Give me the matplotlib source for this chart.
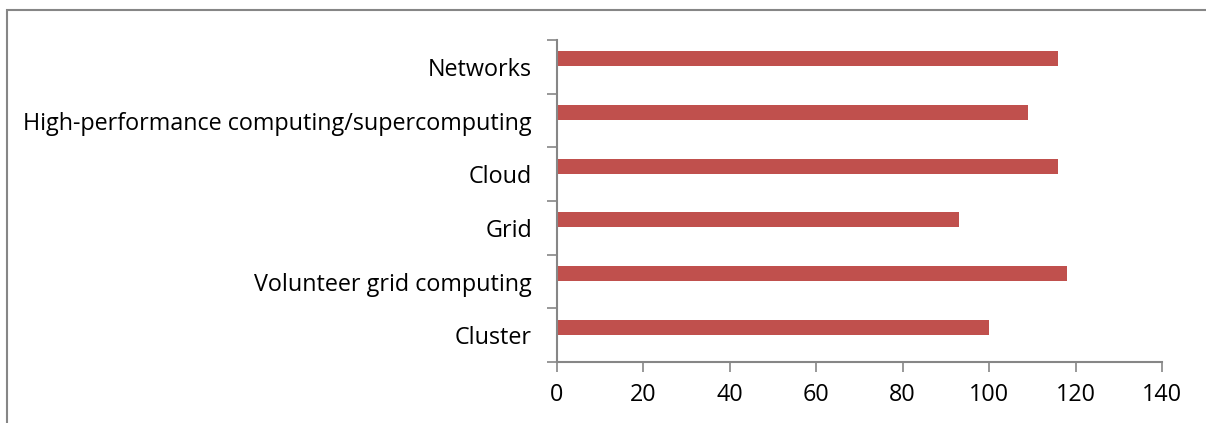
import numpy as np
import matplotlib.pyplot as plt
from matplotlib.patches import Rectangle

# Datos (de abajo hacia arriba)
categories = ["Cluster", "Volunteer grid computing", "Grid", "Cloud",
              "High-performance computing/supercomputing", "Networks"]
values = [100, 118, 93, 116, 109, 116]
x_ticks = [0, 20, 40, 60, 80, 100, 120, 140]

bar_color = "#C0504D"
axis_color = "#868686"

plt.rcParams['font.family'] = ['Open Sans', 'DejaVu Sans']

fig = plt.figure(figsize=(12.06, 4.23), dpi=100)

# marco del gráfico
fig.patches.append(Rectangle((7 / 1206, -0.1), 1.2, 1.1 - 10 / 423,
                             transform=fig.transFigure, fill=False,
                             edgecolor=axis_color, linewidth=1.5))

ax = fig.add_axes([557 / 1206, 1 - 362 / 423, 605 / 1206, 322 / 423])

pos = np.arange(len(categories))
# la barra queda desplazada hacia arriba dentro de su categoría
ax.barh(pos + 0.15, values, height=0.28, color=bar_color)

ax.set_xlim(0, 140)
ax.set_ylim(-0.5, len(categories) - 0.5)
ax.set_xticks(x_ticks)
ax.set_xticklabels([str(t) for t in x_ticks], fontsize=16.8)

# ticks en los bordes de categoría, etiquetas en el centro
ax.set_yticks(np.arange(-0.5, len(categories)))
ax.set_yticklabels([])
ax.set_yticks(pos, minor=True)
ax.set_yticklabels(categories, minor=True, fontsize=16.8)
ax.tick_params(axis='y', which='minor', length=0, pad=18)
ax.tick_params(axis='y', which='major', length=7, color=axis_color, width=1.2)
ax.tick_params(axis='x', length=7, color=axis_color, width=1.2, pad=8)

for s in ['top', 'right']:
    ax.spines[s].set_visible(False)
for s in ['left', 'bottom']:
    ax.spines[s].set_color(axis_color)
    ax.spines[s].set_linewidth(1.5)

fig.savefig("out.png", dpi=100)
